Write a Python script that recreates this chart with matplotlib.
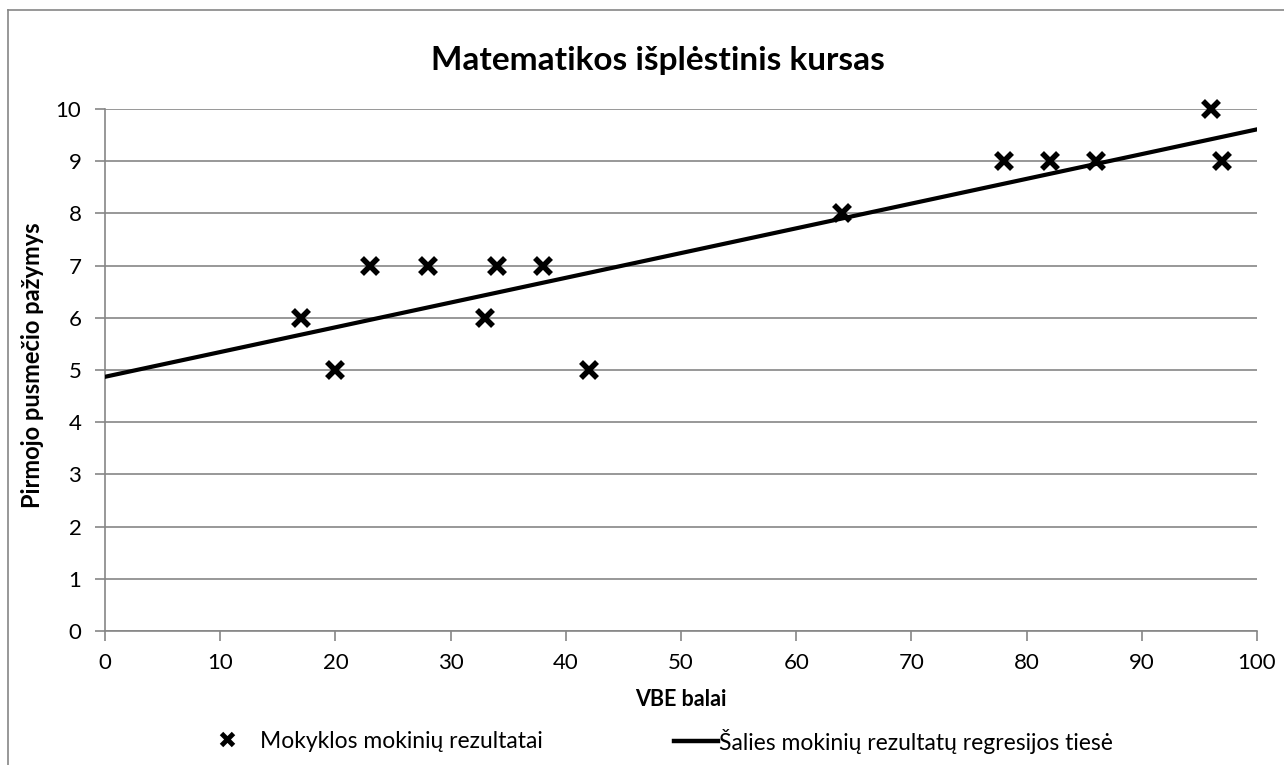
import matplotlib
matplotlib.use("Agg")
import matplotlib.pyplot as plt
from matplotlib.lines import Line2D
import numpy as np

plt.rcParams['font.family'] = ['Lato', 'DejaVu Sans']

# school results
vbe = [17, 20, 23, 28, 33, 34, 38, 42, 64, 78, 82, 86, 96, 97]
grade = [6, 5, 7, 7, 6, 7, 7, 5, 8, 9, 9, 9, 10, 9]

# national regression line endpoints
reg_x = [0, 100]
reg_y = [4.87, 9.61]

xticks = np.arange(0, 101, 10)
yticks = np.arange(0, 11, 1)

W, H = 1284, 765
fig = plt.figure(figsize=(W / 100, H / 100), dpi=100)
ax = fig.add_axes([105 / W, 1 - 631 / H, (1257 - 105) / W, (631 - 109) / H])

grid_col = '#868686'
ax.plot(reg_x, reg_y, color='black', lw=3, zorder=3)
ax.plot(vbe, grade, ls='none', marker='x', ms=12, mew=4, color='black', zorder=4, clip_on=False)

ax.set_xlim(0, 100)
ax.set_ylim(0, 10)
ax.set_xticks(xticks)
ax.set_yticks(yticks)
ax.yaxis.grid(True, color=grid_col, lw=1.2)
ax.set_axisbelow(True)
for s in ['top', 'right']:
    ax.spines[s].set_visible(False)
for s in ['left', 'bottom']:
    ax.spines[s].set_color(grid_col)
    ax.spines[s].set_linewidth(1.2)
ax.tick_params(axis='both', colors=grid_col, labelcolor='black', labelsize=16, length=7, width=1.2)
ax.tick_params(axis='y', pad=10)
ax.tick_params(axis='x', pad=9)

ax.set_title('Matematikos išplėstinis kursas', fontsize=24, fontweight='bold', pad=28,
             x=(658 - 105) / (1257 - 105))
ax.set_xlabel('VBE balai', fontsize=15.5, fontweight='bold')
ax.set_ylabel('Pirmojo pusmečio pažymys', fontsize=17, fontweight='bold')
ax.xaxis.set_label_coords(0.5, (631 - 689) / (631 - 109))
ax.yaxis.set_label_coords((44 - 105) / (1257 - 105), 0.51)

leg1 = fig.legend([Line2D([], [], ls='none', marker='x', ms=9, mew=3.5, color='black')],
                  ['Mokyklos mokinių rezultatai'],
                  loc='center left', bbox_to_anchor=(205 / W, 1 - 741 / H), frameon=False,
                  fontsize=16.5, handlelength=1.9, handletextpad=0.5, borderpad=0, borderaxespad=0)
leg2 = fig.legend([Line2D([], [], color='black', lw=3.2)],
                  ['Šalies mokinių rezultatų regresijos tiesė'],
                  loc='center left', bbox_to_anchor=(674 / W, 1 - 741 / H), frameon=False,
                  fontsize=16.5, handlelength=1.9, handletextpad=0.05, borderpad=0, borderaxespad=0)

# outer chart border (left and top visible)
fig.add_artist(Line2D([8 / W, 8 / W], [0, 1 - 10 / H], color=grid_col, lw=1.2))
fig.add_artist(Line2D([8 / W, 1], [1 - 10 / H, 1 - 10 / H], color=grid_col, lw=1.2))

fig.savefig('out.png', dpi=100)
